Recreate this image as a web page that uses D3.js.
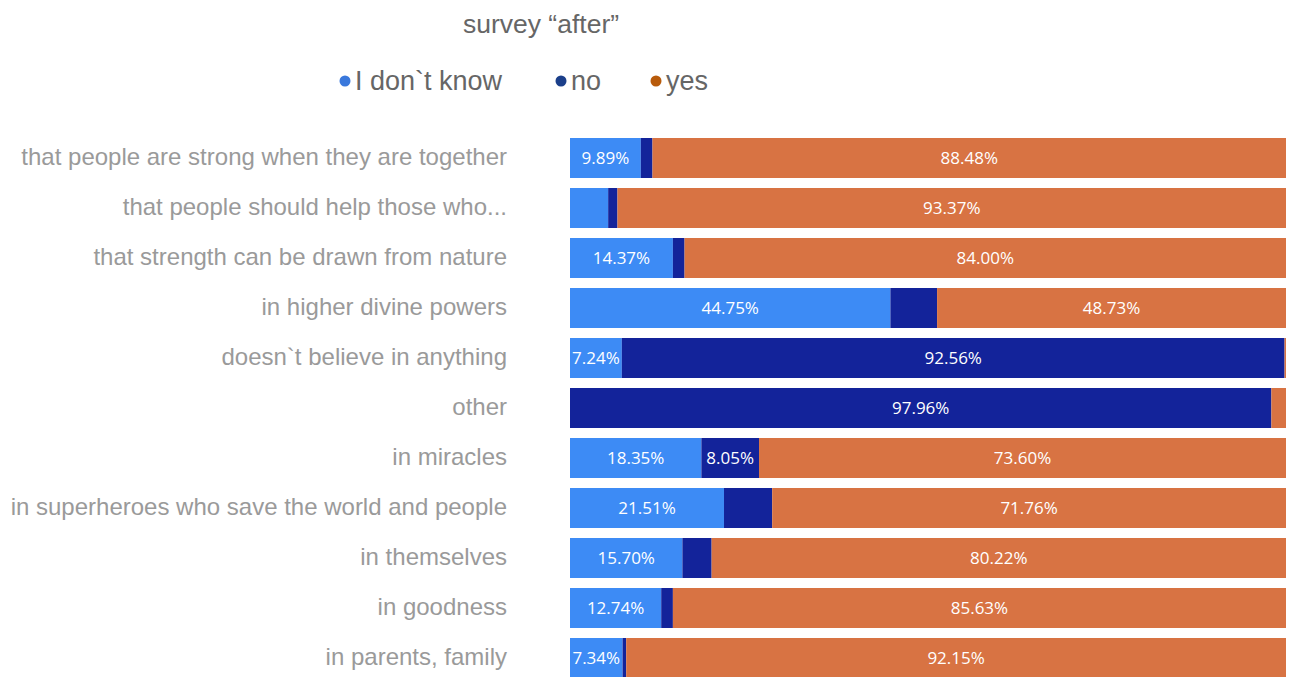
<!DOCTYPE html>
<html>
<head>
<meta charset="utf-8">
<script src="https://cdn.jsdelivr.net/npm/d3@7"></script>
<style>
  html, body { margin: 0; padding: 0; background: #ffffff; }
  svg { display: block; }
</style>
</head>
<body>
<svg id="chart" width="1290" height="677"></svg>
<script>
// Survey answers, share of respondents per statement (percent)
const categories = [
  "that people are strong when they are together",
  "that people should help those who...",
  "that strength can be drawn from nature",
  "in higher divine powers",
  "doesn`t believe in anything",
  "other",
  "in miracles",
  "in superheroes who save the world and people",
  "in themselves",
  "in goodness",
  "in parents, family"
];
const seriesNames = ["I don`t know", "no", "yes"];
const dontKnow = [9.89, 5.33, 14.37, 44.75, 7.24, 0.00, 18.35, 21.51, 15.70, 12.74, 7.34];
const no       = [1.63, 1.30,  1.63,  6.52, 92.56, 97.96, 8.05,  6.73,  4.08,  1.63,  0.51];
const yes      = [88.48, 93.37, 84.00, 48.73, 0.20, 2.04, 73.60, 71.76, 80.22, 85.63, 92.15];

const barColors    = ["#3d8bf5", "#13239a", "#d87343"];
const legendColors = ["#3a78dc", "#1b3f8a", "#b85b0b"];

const svg = d3.select("#chart");

const rows = categories.map((c, i) => ({
  category: c,
  "I don`t know": dontKnow[i],
  "no": no[i],
  "yes": yes[i]
}));

const stacked = d3.stack().keys(seriesNames)(rows);

const x = d3.scaleLinear().domain([0, 100]).range([570, 1286]);
const y = d3.scaleBand().domain(categories).range([133, 683])
  .paddingInner(0.2).paddingOuter(0.1);

// Title
svg.append("text")
  .attr("x", 541).attr("y", 33)
  .attr("text-anchor", "middle")
  .attr("font-family", "Liberation Sans, Arial, sans-serif")
  .attr("font-size", 26.5)
  .attr("fill", "#666666")
  .text("survey \u201Cafter\u201D");

// Legend
const legendX = [345, 561, 656];
const legend = svg.append("g");
seriesNames.forEach((name, i) => {
  legend.append("circle")
    .attr("cx", legendX[i]).attr("cy", 81).attr("r", 5.5)
    .attr("fill", legendColors[i]);
  legend.append("text")
    .attr("x", legendX[i] + 10).attr("y", 90)
    .attr("font-family", "Liberation Sans, Arial, sans-serif")
    .attr("font-size", 27)
    .attr("fill", "#666666")
    .text(name);
});

// Category axis (labels only)
const yAxis = d3.axisLeft(y).tickSize(0).tickPadding(0);
const axisG = svg.append("g")
  .attr("transform", "translate(507,0)")
  .call(yAxis);
axisG.select(".domain").remove();
axisG.selectAll("text")
  .attr("font-family", "Liberation Sans, Arial, sans-serif")
  .attr("font-size", 24)
  .attr("fill", "#9a9a9a")
  .attr("dy", "0.3em");

// Stacked bars
const layers = svg.append("g").selectAll("g")
  .data(stacked)
  .join("g")
  .attr("fill", (d, i) => barColors[i]);

layers.selectAll("rect")
  .data(d => d.map(v => ({ v, category: v.data.category })))
  .join("rect")
  .attr("x", d => x(d.v[0]))
  .attr("y", d => y(d.category))
  .attr("width", d => Math.max(0, x(d.v[1]) - x(d.v[0])))
  .attr("height", y.bandwidth());

// Value labels, shown when the segment is wide enough
const labels = svg.append("g")
  .attr("font-family", "Open Sans, Noto Sans, sans-serif")
  .attr("font-size", 17)
  .attr("fill", "#ffffff")
  .attr("text-anchor", "middle");

stacked.forEach(layer => {
  layer.forEach(v => {
    const val = v[1] - v[0];
    if (val < 7) return;
    labels.append("text")
      .attr("x", (x(v[0]) + x(v[1])) / 2)
      .attr("y", y(v.data.category) + y.bandwidth() / 2)
      .attr("dy", "0.38em")
      .text(d3.format(".2f")(val) + "%");
  });
});
</script>
</body>
</html>
